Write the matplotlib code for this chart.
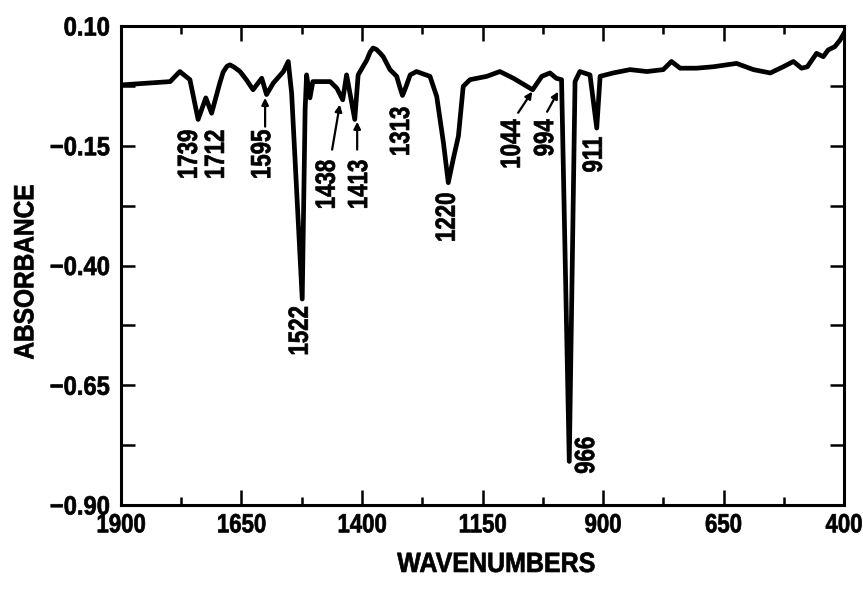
import numpy as np
import matplotlib
matplotlib.use('Agg')
from matplotlib import pyplot as plt
from matplotlib.ticker import FixedLocator
from matplotlib.patheffects import AbstractPathEffect
from matplotlib.transforms import Affine2D

# spectrum (wavenumber, absorbance)
wavenumber = [1900, 1798, 1778, 1757, 1740, 1724, 1712, 1695, 1688, 1680,
              1674, 1665, 1653, 1640, 1626, 1608, 1598, 1584, 1563, 1553,
              1546, 1524, 1518, 1515, 1508, 1502, 1466, 1452, 1440, 1432,
              1415, 1408, 1390, 1383, 1377, 1370, 1362, 1356, 1342, 1328,
              1322, 1316, 1310, 1300, 1287, 1259, 1245, 1231, 1221, 1211,
              1200, 1190, 1176, 1141, 1114, 1086, 1046, 1027, 1010, 997,
              986, 970, 958, 948, 927, 913, 906, 879, 844, 809,
              775, 758, 740, 706, 671, 623, 588, 553, 526, 505,
              488, 476, 457, 443, 433, 419, 408, 400]
absorbance = [-0.023, -0.016, 0.005, -0.012, -0.095, -0.050, -0.082, -0.019, 0.004, 0.016,
              0.019, 0.014, 0.005, -0.012, -0.033, -0.009, -0.043, -0.019, 0.005, 0.026,
              -0.040, -0.470, -0.075, -0.002, -0.050, -0.016, -0.016, -0.030, -0.054, -0.002,
              -0.095, -0.002, 0.029, 0.046, 0.054, 0.051, 0.043, 0.036, 0.009, -0.005,
              -0.026, -0.045, -0.030, -0.002, 0.005, -0.005, -0.047, -0.144, -0.227, -0.179,
              -0.130, -0.026, -0.012, -0.005, 0.005, -0.009, -0.033, -0.005, 0.002, -0.009,
              -0.012, -0.809, -0.016, 0.005, -0.002, -0.113, -0.005, 0.002, 0.009, 0.005,
              0.009, 0.026, 0.012, 0.012, 0.015, 0.022, 0.009, 0.002, 0.015, 0.026,
              0.012, 0.015, 0.043, 0.036, 0.050, 0.057, 0.071, 0.085]

# peak labels: text, x, top y
peak_text = ['1739', '1712', '1595', '1522', '1438', '1413', '1313', '1220',
             '1044', '994', '966', '911']
peak_x = [1757, 1701, 1605, 1527, 1471, 1404, 1317, 1222, 1087, 1018, 933, 917]
peak_y = [-0.116, -0.116, -0.116, -0.484, -0.179, -0.179, -0.068, -0.247,
          -0.095, -0.095, -0.757, -0.131]

# arrows: tail (x, y) -> head (x, y)
arrow_tail = [(1601, -0.110), (1462, -0.158), (1410, -0.158), (1076, -0.081), (1016, -0.079)]
arrow_head = [(1601, -0.050), (1446, -0.064), (1410, -0.100), (1047, -0.037), (993, -0.037)]

x_ticks = [1900, 1650, 1400, 1150, 900, 650, 400]
x_labels = ['1900', '1650', '1400', '1150', '900', '650', '400']
y_ticks = [0.10, -0.15, -0.40, -0.65, -0.90]
y_labels = ['0.10', '\u22120.15', '\u22120.40', '\u22120.65', '\u22120.90']


class Narrow(AbstractPathEffect):
    # squeeze text sideways to get a condensed bold look
    def __init__(self, sx=0.85, anchor='center', lw=0.5):
        super().__init__()
        self.sx = sx
        self.anchor = anchor
        self.lw = lw

    def draw_path(self, renderer, gc, tpath, affine, rgbFace=None):
        ext = tpath.get_extents()
        if self.anchor == 'center':
            cx = (ext.x0 + ext.x1) / 2
        elif self.anchor == 'right':
            cx = ext.x1
        else:
            cx = ext.x0
        t = Affine2D().translate(-cx, 0).scale(self.sx, 1).translate(cx, 0) + affine
        gc0 = renderer.new_gc()
        gc0.copy_properties(gc)
        gc0.set_linewidth(self.lw)
        gc0.set_foreground('black')
        renderer.draw_path(gc0, tpath, t, rgbFace)
        gc0.restore()


plt.rcParams['font.family'] = ['Liberation Sans', 'DejaVu Sans']
plt.rcParams['font.weight'] = 'bold'

fig = plt.figure(figsize=(8.63, 5.89), dpi=100)
ax = fig.add_axes([0.1402, 0.1426, 0.8378, 0.8132])

ax.plot(wavenumber, absorbance, color='black', lw=3.4, solid_joinstyle='round')

for t, x, y in zip(peak_text, peak_x, peak_y):
    ax.text(x, y, t, rotation=90, ha='center', va='top', fontsize=20, fontweight='bold',
            path_effects=[Narrow(0.8, 'right')])

for (x0, y0), (x1, y1) in zip(arrow_tail, arrow_head):
    ax.annotate('', xy=(x1, y1), xytext=(x0, y0),
                arrowprops=dict(arrowstyle='-|>', color='black', lw=1.6,
                                mutation_scale=10, shrinkA=0, shrinkB=0))

ax.set_xlim(1900, 400)
ax.set_ylim(-0.90, 0.10)
ax.set_xticks(x_ticks)
ax.set_xticklabels(x_labels)
ax.xaxis.set_minor_locator(FixedLocator([t - 125 for t in x_ticks[:-1]]))
ax.set_yticks(y_ticks)
ax.set_yticklabels(y_labels)
ax.yaxis.set_minor_locator(FixedLocator([t - 0.125 for t in y_ticks[:-1]]))
ax.tick_params(which='both', direction='in', top=True, right=True, width=1.8,
               labelsize=19)
ax.tick_params(axis='x', which='major', length=11, pad=6)
ax.tick_params(axis='x', which='minor', length=6)
ax.tick_params(axis='y', which='both', length=10, pad=8)
for s in ax.spines.values():
    s.set_linewidth(2.2)

for lbl in ax.get_xticklabels():
    lbl.set_path_effects([Narrow(0.84, 'center')])
for lbl in ax.get_yticklabels():
    lbl.set_path_effects([Narrow(0.9, 'right')])

ax.set_xlabel('WAVENUMBERS', fontsize=20, fontweight='bold',
              path_effects=[Narrow(0.9, 'center')])
ax.set_ylabel('ABSORBANCE', fontsize=20, fontweight='bold',
              path_effects=[Narrow(0.88, 'center')])
ax.xaxis.set_label_coords(0.519, -0.098)
ax.yaxis.set_label_coords(-0.113, 0.486)

fig.savefig('out.png', dpi=100)
